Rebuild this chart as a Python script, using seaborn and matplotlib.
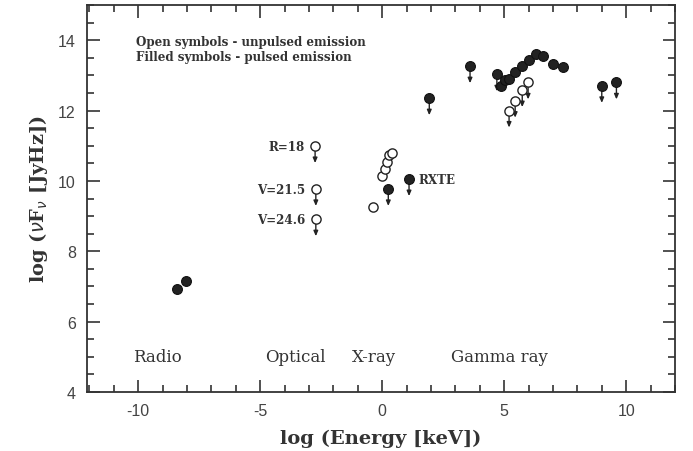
import numpy as np
import pandas as pd
import matplotlib
matplotlib.use("Agg")
import matplotlib.pyplot as plt
from matplotlib.ticker import MultipleLocator
import seaborn as sns

sns.set_style("ticks")
plt.rcParams["axes.unicode_minus"] = False
plt.rcParams["font.family"] = ["Liberation Sans", "DejaVu Sans"]

# pulsed emission (filled symbols)
filled_x = [-8.4, -8.03, 0.25, 1.1, 1.93, 3.6, 4.7, 4.88, 5.04, 5.2, 5.45, 5.74,
            6.0, 6.31, 6.6, 7.0, 7.42, 9.0, 9.6]
filled_y = [6.93, 7.15, 9.77, 10.05, 12.35, 13.26, 13.03, 12.7, 12.86, 12.9, 13.1,
            13.26, 13.43, 13.6, 13.54, 13.32, 13.23, 12.7, 12.8]
filled_lim = [0, 0, 1, 1, 1, 1, 1, 0, 0, 0, 0, 0, 0, 0, 0, 0, 0, 1, 1]

# unpulsed emission (open symbols)
open_x = [-2.75, -2.72, -2.72, -0.37, 0.0, 0.12, 0.2, 0.29, 0.41, 5.2, 5.45, 5.74, 5.98]
open_y = [10.99, 9.77, 8.91, 9.26, 10.14, 10.34, 10.53, 10.73, 10.79, 12.0, 12.28, 12.58, 12.8]
open_lim = [1, 1, 1, 0, 0, 0, 0, 0, 0, 1, 1, 1, 1]

optical_labels = ["R=18", "V=21.5", "V=24.6"]
band_names = ["Radio", "Optical", "X-ray", "Gamma ray"]
band_x = [-10.2, -4.8, -1.23, 2.8]

df_f = pd.DataFrame({"x": filled_x, "y": filled_y, "lim": filled_lim})
df_o = pd.DataFrame({"x": open_x, "y": open_y, "lim": open_lim})

fig = plt.figure(figsize=(6.93, 4.52), dpi=100)
ax = fig.add_axes([0.1255, 0.1305, 0.8485, 0.856])

# arrows for upper limits
for df in (df_f, df_o):
    for x, y in df.loc[df["lim"] == 1, ["x", "y"]].values:
        ax.annotate("", xy=(x, y - 0.48), xytext=(x, y),
                    arrowprops=dict(arrowstyle="-|>,head_length=0.3,head_width=0.13",
                                    color="#222222", lw=1.0, shrinkA=0, shrinkB=0))

sns.scatterplot(data=df_o, x="x", y="y", ax=ax, marker="o", s=44,
                facecolor="white", edgecolor="#222222", linewidth=1.0, zorder=3)
sns.scatterplot(data=df_f, x="x", y="y", ax=ax, marker="o", s=50,
                color="#222222", edgecolor="#111111", linewidth=0.8, zorder=4)

ax.set_xlim(-12.1, 12)
ax.set_ylim(4, 15)
ax.xaxis.set_major_locator(MultipleLocator(5))
ax.xaxis.set_minor_locator(MultipleLocator(1))
ax.yaxis.set_major_locator(MultipleLocator(2))
ax.yaxis.set_minor_locator(MultipleLocator(0.5))
ax.tick_params(which="both", direction="in", top=True, right=True, width=1.2, color="#333333")
ax.tick_params(which="major", length=9, labelsize=11.5, pad=8, labelcolor="#444444")
ax.tick_params(which="minor", length=5)
for sp in ax.spines.values():
    sp.set_linewidth(1.3)
    sp.set_color("#333333")

serif = {"family": "DejaVu Serif", "weight": "bold", "color": "#333333"}
ax.set_xlabel("log (Energy [keV])", fontsize=14, labelpad=8, **serif)
ax.set_ylabel(r"log ($\nu$F$_\nu$ [JyHz])", fontsize=14, labelpad=6, **serif)

small = {"family": "DejaVu Serif", "weight": "bold", "color": "#333333", "fontsize": 8.6}
ax.text(-10.1, 13.97, "Open symbols - unpulsed emission", va="center", **small)
ax.text(-10.1, 13.55, "Filled symbols - pulsed emission", va="center", **small)

for lab, y in zip(optical_labels, open_y[:3]):
    ax.text(-3.16, y, lab, ha="right", va="center", **small)
ax.text(1.5, filled_y[3], "RXTE", ha="left", va="center", **small)

for name, x in zip(band_names, band_x):
    ax.text(x, 5.02, name, ha="left", va="center", family="DejaVu Serif",
            color="#333333", fontsize=12)

fig.savefig("out.png", dpi=100)
